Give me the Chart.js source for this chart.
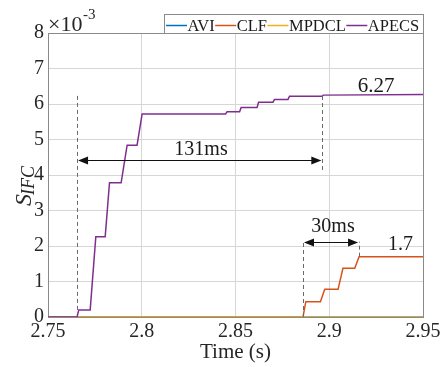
<!DOCTYPE html>
<html><head><meta charset="utf-8">
<script src="https://cdn.jsdelivr.net/npm/chart.js@4/dist/chart.umd.min.js"></script>
<style>html,body{margin:0;padding:0;background:#fff}</style>
</head><body>
<canvas id="c" width="445" height="367"></canvas>
<script>
const seriesNames = ['AVI', 'CLF', 'MPDCL', 'APECS'];
const seriesColors = ['#0072BD', '#D95319', '#EDB120', '#7E2F8E'];

const aviTime = [2.75, 2.95];
const aviValue = [0, 0];

const clfTime  = [2.75, 2.886, 2.8875, 2.8953, 2.8976, 2.9047, 2.9073, 2.9136, 2.9159, 2.95];
const clfValue = [0, 0, 0.43, 0.43, 0.78, 0.78, 1.37, 1.37, 1.70, 1.70];

const mpdclTime = [2.75, 2.95];
const mpdclValue = [0, 0];

const apecsTime  = [2.75, 2.7655, 2.7664, 2.7725, 2.7755, 2.7805, 2.7828, 2.789, 2.7922, 2.7975, 2.8002,
                    2.8447, 2.8455, 2.8522, 2.853, 2.8615, 2.8623, 2.870, 2.8708, 2.878, 2.8788, 2.8963, 2.8968, 2.95];
const apecsValue = [0, 0, 0.2, 0.2, 2.26, 2.26, 3.78, 3.78, 4.84, 4.84, 5.72,
                    5.72, 5.78, 5.78, 5.90, 5.90, 6.05, 6.05, 6.13, 6.13, 6.22, 6.22, 6.25, 6.27];

const xTicks = [2.75, 2.8, 2.85, 2.9, 2.95];
const xTickLabels = ['2.75', '2.8', '2.85', '2.9', '2.95'];
const yTicks = [0, 1, 2, 3, 4, 5, 6, 7, 8];
const yTickLabels = ['0', '1', '2', '3', '4', '5', '6', '7', '8'];

// annotations (data units)
const apecsStart = 2.7655, apecsEnd = 2.8963;
const clfStart = 2.886, clfEnd = 2.9159;

const FONT = '"Liberation Serif", "Times New Roman", serif';

function pts(t, v) { return t.map((x, i) => ({ x: x, y: v[i] })); }

const allTimes = [aviTime, clfTime, mpdclTime, apecsTime];
const allValues = [aviValue, clfValue, mpdclValue, apecsValue];
const drawOrder = [3, 2, 1, 0];

const datasets = seriesNames.map((n, i) => ({
  label: n,
  data: pts(allTimes[i], allValues[i]),
  borderColor: seriesColors[i],
  backgroundColor: seriesColors[i],
  borderWidth: 1.5,
  pointRadius: 0,
  tension: 0,
  fill: false,
  order: drawOrder[i]
}));

function arrowHead(ctx, x, y, dir) {
  ctx.beginPath();
  ctx.moveTo(x, y);
  ctx.lineTo(x + dir * 10, y - 4);
  ctx.lineTo(x + dir * 10, y + 4);
  ctx.closePath();
  ctx.fill();
}

const deco = {
  id: 'deco',
  beforeDatasetsDraw(chart) {
    const ctx = chart.ctx, a = chart.chartArea;
    ctx.save();
    ctx.strokeStyle = '#8a8a8a';
    ctx.lineWidth = 1;
    ctx.strokeRect(Math.round(a.left) + 0.5, Math.round(a.top) + 0.5, Math.round(a.right - a.left), Math.round(a.bottom - a.top));
    ctx.restore();
  },
  afterDatasetsDraw(chart) {
    const ctx = chart.ctx, xs = chart.scales.x, ys = chart.scales.y;
    ctx.save();
    ctx.strokeStyle = '#6a6a6a';
    ctx.lineWidth = 1;
    ctx.setLineDash([4, 3]);
    const vline = (t, v0, v1) => {
      const x = Math.round(xs.getPixelForValue(t)) + 0.5;
      ctx.beginPath();
      ctx.moveTo(x, ys.getPixelForValue(v0));
      ctx.lineTo(x, ys.getPixelForValue(v1));
      ctx.stroke();
    };
    vline(apecsStart, 0.2, 6.24);
    vline(apecsEnd, 4.14, 6.24);
    vline(clfStart, 0, 2.12);
    vline(clfEnd, 1.7, 2.12);
    ctx.setLineDash([]);
    ctx.strokeStyle = '#111';
    ctx.fillStyle = '#111';
    const harrow = (t0, t1, v) => {
      const x0 = xs.getPixelForValue(t0), x1 = xs.getPixelForValue(t1);
      const y = Math.round(ys.getPixelForValue(v)) + 0.5;
      ctx.beginPath();
      ctx.moveTo(x0 + 2, y); ctx.lineTo(x1 - 2, y); ctx.stroke();
      arrowHead(ctx, x0 + 1, y, 1);
      arrowHead(ctx, x1 - 1, y, -1);
    };
    harrow(apecsStart, apecsEnd, 4.42);
    harrow(clfStart, clfEnd, 2.1);
    ctx.fillStyle = '#1a1a1a';
    ctx.textAlign = 'center';
    ctx.textBaseline = 'middle';
    ctx.font = '20px ' + FONT;
    ctx.fillText('131ms', xs.getPixelForValue(2.8316), ys.getPixelForValue(4.72));
    ctx.fillText('30ms', xs.getPixelForValue(2.9020), ys.getPixelForValue(2.54));
    ctx.font = '21px ' + FONT;
    ctx.fillText('6.27', xs.getPixelForValue(2.9250), ys.getPixelForValue(6.50));
    ctx.font = '20px ' + FONT;
    ctx.fillText('1.7', xs.getPixelForValue(2.9380), ys.getPixelForValue(2.03));
    ctx.restore();
  },
  afterDraw(chart) {
    const ctx = chart.ctx, a = chart.chartArea;
    ctx.save();
    ctx.fillStyle = '#262626';
    ctx.textAlign = 'left';
    ctx.textBaseline = 'alphabetic';
    ctx.font = '22px ' + FONT;
    ctx.fillText('\u00d710', a.left, 31);
    const w = ctx.measureText('\u00d710').width;
    ctx.font = '15px ' + FONT;
    ctx.fillText('-3', a.left + w + 0.5, 19);
    ctx.font = '21px ' + FONT;
    ctx.textAlign = 'center';
    ctx.fillText('Time (s)', (a.left + a.right) / 2, 358);
    ctx.translate(31, 206);
    ctx.rotate(-Math.PI / 2);
    ctx.textAlign = 'left';
    ctx.font = 'italic 24px ' + FONT;
    ctx.fillText('S', 0, 0);
    const ws = ctx.measureText('S').width;
    ctx.font = 'italic 18px ' + FONT;
    ctx.fillText('IFC', ws - 1, 3);
    ctx.restore();

    // legend box
    ctx.save();
    const bx = 164.5, by = 14.5, bw = 259, bh = 19;
    ctx.fillStyle = '#fff';
    ctx.fillRect(bx, by, bw, bh);
    ctx.strokeStyle = '#8a8a8a';
    ctx.lineWidth = 1;
    ctx.strokeRect(bx, by, bw, bh);
    ctx.font = '16.5px ' + FONT;
    ctx.textBaseline = 'alphabetic';
    ctx.textAlign = 'left';
    let x = bx + 1.5;
    const yl = 25.5;
    seriesNames.forEach((n, i) => {
      ctx.strokeStyle = seriesColors[i];
      ctx.lineWidth = 1.5;
      ctx.beginPath();
      ctx.moveTo(x, yl); ctx.lineTo(x + 21, yl); ctx.stroke();
      x += 21.5;
      ctx.fillStyle = '#1a1a1a';
      ctx.fillText(n, x, 31);
      x += ctx.measureText(n).width + 0.5;
    });
    ctx.restore();
  }
};

new Chart(document.getElementById('c'), {
  type: 'line',
  data: { datasets: datasets },
  options: {
    responsive: false,
    animation: false,
    layout: { padding: { top: 33, right: 22, left: 0, bottom: 0 } },
    plugins: { legend: { display: false }, tooltip: { enabled: false } },
    scales: {
      x: {
        type: 'linear',
        min: 2.75, max: 2.95,
        afterFit(s) { s.height = 50; },
        afterBuildTicks(s) { s.ticks = xTicks.map(v => ({ value: v })); },
        grid: { color: '#d6d6d6', drawTicks: false },
        border: { display: false },
        ticks: {
          padding: 3,
          color: '#262626',
          font: { family: FONT, size: 20 },
          maxRotation: 0,
          callback: (v) => { const i = xTicks.findIndex(t => Math.abs(t - v) < 1e-9); return i >= 0 ? xTickLabels[i] : ''; }
        }
      },
      y: {
        type: 'linear',
        min: 0, max: 8,
        afterFit(s) { s.width = 48; },
        afterBuildTicks(s) { s.ticks = yTicks.map(v => ({ value: v })); },
        grid: { color: '#d6d6d6', drawTicks: false },
        border: { display: false },
        ticks: {
          padding: 4,
          color: '#262626',
          font: { family: FONT, size: 20 },
          callback: (v) => { const i = yTicks.indexOf(v); return i >= 0 ? yTickLabels[i] : ''; }
        }
      }
    }
  },
  plugins: [deco]
});
</script>
</body></html>
